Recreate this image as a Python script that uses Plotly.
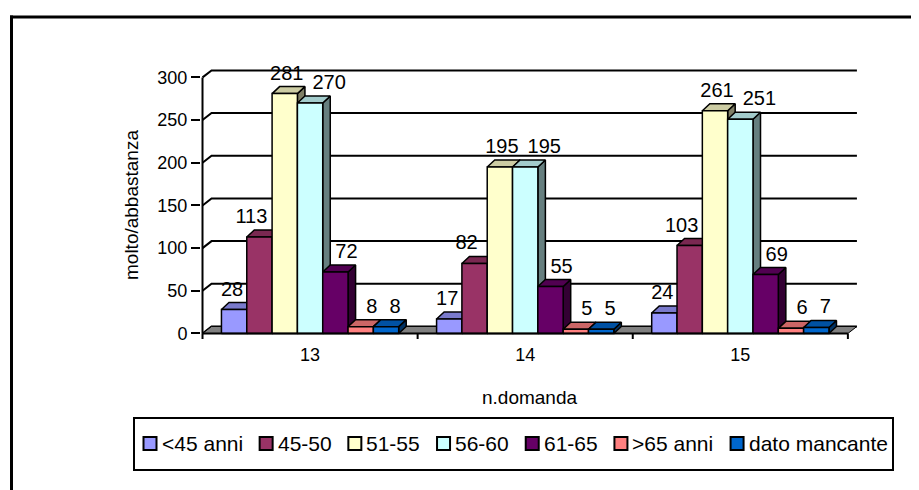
import plotly.graph_objects as go

categories = ["13", "14", "15"]
series_names = ["<45 anni", "45-50", "51-55", "56-60", "61-65", ">65 anni", "dato mancante"]

lt45 = [28, 17, 24]
v45_50 = [113, 82, 103]
v51_55 = [281, 195, 261]
v56_60 = [270, 195, 251]
v61_65 = [72, 55, 69]
gt65 = [8, 5, 6]
mancante = [8, 5, 7]

series_values = [lt45, v45_50, v51_55, v56_60, v61_65, gt65, mancante]
colors = ["#9999FF", "#993366", "#FFFFCC", "#CCFFFF", "#660066", "#FF8080", "#0066CC"]
y_ticks = [0, 50, 100, 150, 200, 250, 300]

FONT = "Liberation Sans, Arial, sans-serif"

# fake 3d: depth offsets in data units
bar_w = 0.1177
bar_dx, bar_dy = 0.035, 8.2
wall_dx, wall_dy = 0.042, 8.2
# label nudges (px) per series, like the excel placement
label_shift = [-2, -8, 2, 19, 11, 11, 9]
PX_X, PX_Y = 215.0, 0.853   # px per x unit / per y unit

# page coords -> paper coords (plot area: screen x 201..858, y 68..342)
def px(xs):
    return (xs - 201) / 657.0


def py(ys):
    return (342 - ys) / 274.0


def shade(hex_color, f):
    h = hex_color.lstrip("#")
    r, g, b = (int(h[i:i + 2], 16) for i in (0, 2, 4))
    return "rgb(%d,%d,%d)" % (r * f, g * f, b * f)


def poly(xs, ys, fill, width=1.5):
    return go.Scatter(x=xs, y=ys, mode="lines", fill="toself", fillcolor=fill,
                      line=dict(color="black", width=width), hoverinfo="skip",
                      showlegend=False)


# arial widths per 1000 em, for the hand made legend
CW = {"<": 584, ">": 584, " ": 278, "-": 333, "a": 556, "n": 556, "i": 222,
      "d": 556, "t": 278, "o": 556, "m": 833, "c": 500, "e": 556}


def text_w(s, size):
    return sum(CW.get(ch, 556) for ch in s) * size / 1000.0


fig = go.Figure()

# back wall gridlines with side-wall diagonals
gx, gy = [], []
for v in y_ticks:
    gx += [-0.5, -0.5 + wall_dx, 2.5 + wall_dx, None]
    gy += [v, v + wall_dy, v + wall_dy, None]
fig.add_trace(go.Scatter(x=gx, y=gy, mode="lines", line=dict(color="black", width=2),
                         hoverinfo="skip", showlegend=False))

# floor
fig.add_trace(poly([-0.5, 2.5, 2.5 + wall_dx, -0.5 + wall_dx, -0.5],
                   [0, 0, wall_dy, wall_dy, 0], "#808080", 1))

# bars, drawn left to right so neighbours hide the side faces
n = len(series_names)
lab_x, lab_y, lab_t = [], [], []
for c in range(len(categories)):
    for j in range(n):
        v = series_values[j][c]
        x0 = c - n * bar_w / 2 + j * bar_w
        x1 = x0 + bar_w
        col = colors[j]
        fig.add_trace(poly([x1, x1 + bar_dx, x1 + bar_dx, x1, x1],
                           [0, bar_dy, v + bar_dy, v, 0], shade(col, 0.5)))
        fig.add_trace(poly([x0, x1, x1 + bar_dx, x0 + bar_dx, x0],
                           [v, v, v + bar_dy, v + bar_dy, v], shade(col, 0.8)))
        fig.add_trace(poly([x0, x1, x1, x0, x0], [0, 0, v, v, 0], col))
        lab_x.append(x0 + bar_w / 2 + label_shift[j] / PX_X)
        lab_y.append(v + 19 / PX_Y)
        lab_t.append(str(v))

# front axes
fig.add_trace(go.Scatter(x=[-0.5, -0.5, None, -0.5, 2.5],
                         y=[0, 300, None, 0, 0], mode="lines",
                         line=dict(color="black", width=2), hoverinfo="skip",
                         showlegend=False))
tx, ty = [], []
for b in [-0.5, 0.5, 1.5, 2.5]:
    tx += [b, b, None]
    ty += [0, -6.5, None]
fig.add_trace(go.Scatter(x=tx, y=ty, mode="lines", line=dict(color="black", width=2),
                         hoverinfo="skip", showlegend=False))

# data labels
fig.add_trace(go.Scatter(x=lab_x, y=lab_y, text=lab_t, mode="text",
                         textposition="middle center", cliponaxis=False,
                         textfont=dict(family=FONT, size=20, color="black"),
                         hoverinfo="skip", showlegend=False))

# outer frame: only left and top edges are inside the picture
shapes = [
    dict(type="line", xref="paper", yref="paper", x0=px(11.5), x1=px(11.5),
         y0=py(15.5), y1=py(500), line=dict(color="black", width=3), layer="below"),
    dict(type="line", xref="paper", yref="paper", x0=px(10), x1=px(930),
         y0=py(17), y1=py(17), line=dict(color="black", width=3), layer="below"),
    dict(type="rect", xref="paper", yref="paper", x0=px(134), x1=px(893),
         y0=py(470), y1=py(418), line=dict(color="black", width=2),
         fillcolor="white", layer="below"),
]
annotations = [
    dict(text="n.domanda", xref="paper", yref="paper", x=px(530), y=py(397),
         xanchor="center", yanchor="middle", showarrow=False, font=dict(size=19)),
    dict(text="molto/abbastanza", xref="paper", yref="paper", x=px(131), y=py(205),
         xanchor="center", yanchor="middle", textangle=-90, showarrow=False,
         font=dict(size=19)),
]
LEG_FS = 21
cx = 143.5
cy = 443.5
for name, col in zip(series_names, colors):
    shapes.append(dict(type="rect", xref="paper", yref="paper",
                       x0=px(cx), x1=px(cx + 13), y0=py(cy + 6.5), y1=py(cy - 6.5),
                       line=dict(color="black", width=2), fillcolor=col))
    annotations.append(dict(text=name, xref="paper", yref="paper", x=px(cx + 16),
                            y=py(cy), xanchor="left", yanchor="middle",
                            showarrow=False, font=dict(size=LEG_FS)))
    cx += 18 + text_w(name, LEG_FS) + 17

fig.update_layout(
    width=911, height=482,
    margin=dict(l=193, r=61, t=60, b=148),
    paper_bgcolor="white", plot_bgcolor="white",
    font=dict(family=FONT, size=18, color="black"),
    showlegend=False,
    xaxis=dict(range=[-0.507, 2.547], tickvals=[0, 1, 2], ticktext=categories,
               showgrid=False, zeroline=False, showline=False, ticks="",
               tickfont=dict(size=18)),
    yaxis=dict(range=[-10, 311], tickvals=y_ticks, showgrid=False, zeroline=False,
               showline=False, ticks="outside", ticklen=9, tickwidth=2,
               tickcolor="black", tickfont=dict(size=18)),
    annotations=annotations,
    shapes=shapes,
)

fig.write_html("out.html")
